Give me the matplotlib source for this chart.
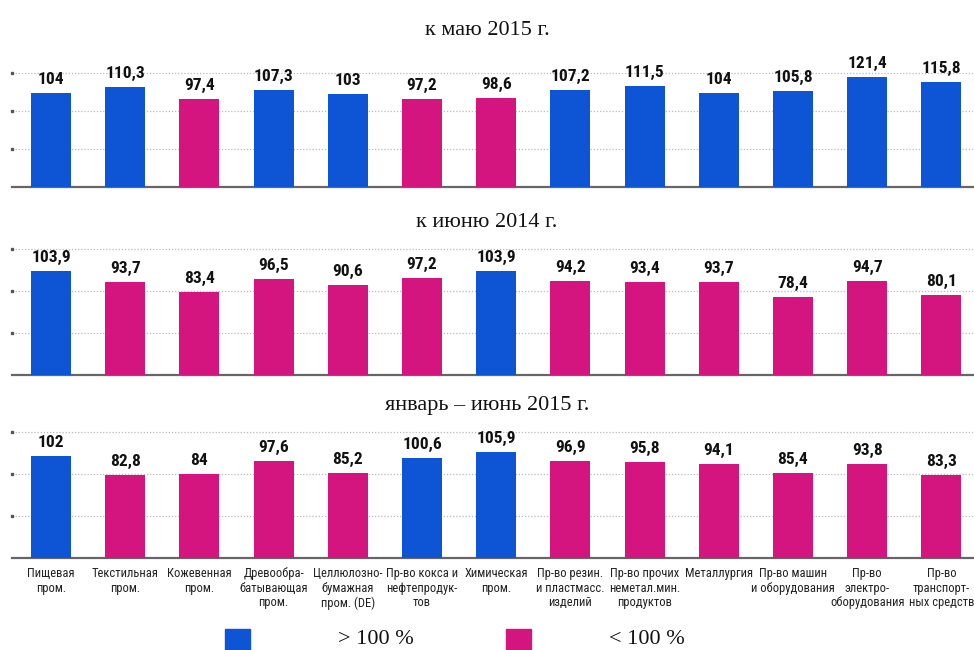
import matplotlib
matplotlib.use("Agg")
import matplotlib.pyplot as plt
from matplotlib.patches import Rectangle
from matplotlib import font_manager

categories = [
    "Пищевая\nпром.", "Текстильная\nпром.", "Кожевенная\nпром.",
    "Древообра-\nбатывающая\nпром.", "Целлюлозно-\nбумажная\nпром. (DE)",
    "Пр-во кокса и\nнефтепродук-\nтов", "Химическая\nпром.",
    "Пр-во резин.\nи пластмасс.\nизделий", "Пр-во прочих\nнеметал.мин.\nпродуктов",
    "Металлургия", "Пр-во машин\nи оборудования",
    "Пр-во\nэлектро-\nоборудования", "Пр-во\nтранспорт-\nных средств",
]
titles = ["к маю 2015 г.", "к июню 2014 г.", "январь – июнь 2015 г."]
may_2015 = [104, 110.3, 97.4, 107.3, 103, 97.2, 98.6, 107.2, 111.5, 104, 105.8, 121.4, 115.8]
june_2014 = [103.9, 93.7, 83.4, 96.5, 90.6, 97.2, 103.9, 94.2, 93.4, 93.7, 78.4, 94.7, 80.1]
jan_jun_2015 = [102, 82.8, 84, 97.6, 85.2, 100.6, 105.9, 96.9, 95.8, 94.1, 85.4, 93.8, 83.3]
legend_labels = ["> 100 %", "< 100 %"]

BLUE = "#0E55D5"
PINK = "#D5157F"

names = {f.name for f in font_manager.fontManager.ttflist}
narrow = "Liberation Sans"
for cand in ("Liberation Sans Narrow", "Roboto Condensed", "PT Sans Narrow", "Archivo Narrow"):
    if cand in names:
        narrow = cand
        break
serif = "Liberation Serif"

W, H = 974, 650
fig = plt.figure(figsize=(W / 100, H / 100), dpi=100)

def fx(px):
    return px / W

def fy(py):
    return 1 - py / H

# axes: (top_px, bottom_px)
panels = [(73.3, 186.7), (249.3, 375.0), (432.3, 557.7)]
title_base = [35, 227, 410]
series = [may_2015, june_2014, jan_jun_2015]

n = len(categories)
x = list(range(n))
left_px, right_px = 12, 974
c0, step = 51.0, 74.2
xmin = (left_px - c0) / step
xmax = (right_px - c0) / step

for k, (top, bot) in enumerate(panels):
    ax = fig.add_axes([fx(left_px), fy(bot), fx(right_px - left_px), (bot - top) / H])
    vals = series[k]
    colors = [BLUE if v > 100 else PINK for v in vals]
    ax.bar(x, vals, width=0.54, color=colors, zorder=3)
    ax.set_xlim(xmin, xmax)
    ax.set_ylim(0, 126)
    for yv in (42, 84, 126):
        ax.axhline(yv, color="#bbbbbb", lw=0.9, ls=(0, (1, 1.5)), zorder=1, clip_on=False)
        ax.plot([xmin], [yv], marker="s", ms=2, color="#555555", clip_on=False, zorder=2)
    for sp in ("top", "right", "left"):
        ax.spines[sp].set_visible(False)
    ax.spines["bottom"].set_color("#666666")
    ax.spines["bottom"].set_linewidth(1.6)
    ax.set_yticks([])
    ax.tick_params(axis="x", length=0)
    if k == 2:
        ax.set_xticks(x)
        ax.set_xticklabels(categories, family=narrow, fontsize=9, color="#222222",
                           linespacing=1.15, va="top")
        ax.tick_params(axis="x", pad=7)
    else:
        ax.set_xticks([])
    for xi, v in zip(x, vals):
        lab = ("%g" % v).replace(".", ",")
        ax.annotate(lab, (xi, v), xytext=(0, 6.5), textcoords="offset points",
                    ha="center", va="baseline", family=narrow, fontweight="bold",
                    fontsize=12.5, color="#111111", clip_on=False)
    fig.text(0.5, fy(title_base[k]), titles[k], ha="center", va="baseline",
             family=serif, fontsize=16, color="#111111")

# legend
fig.patches.append(Rectangle((fx(225), fy(650)), fx(25), (650 - 629) / H,
                             transform=fig.transFigure, color=BLUE))
fig.patches.append(Rectangle((fx(506), fy(650)), fx(25), (650 - 629) / H,
                             transform=fig.transFigure, color=PINK))
fig.text(fx(338), fy(644), legend_labels[0], ha="left", va="baseline",
         family=serif, fontsize=16, color="#111111")
fig.text(fx(609), fy(644), legend_labels[1], ha="left", va="baseline",
         family=serif, fontsize=16, color="#111111")

fig.savefig("out.png", dpi=100, facecolor="white")
